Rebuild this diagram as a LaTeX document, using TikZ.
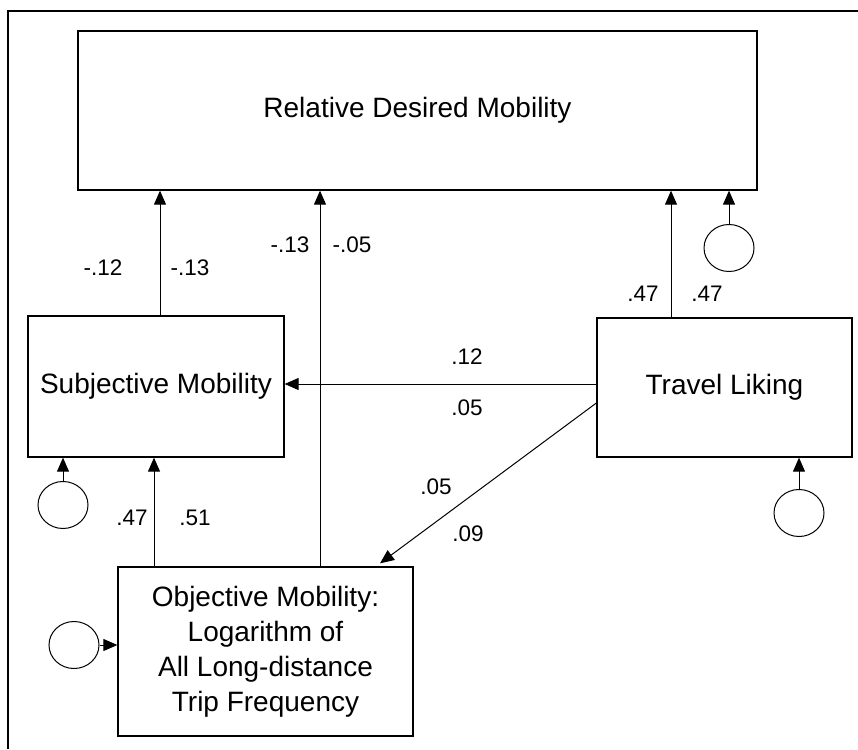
\documentclass[tikz,border=0pt]{standalone}
\usepackage{fontspec}
\setmainfont{Liberation Sans}
\usetikzlibrary{arrows.meta,calc,shapes.geometric}
\tikzset{
  boxnode/.style={draw,line width=1.3pt,align=center,inner sep=0pt,font=\fontsize{28}{35}\selectfont},
  errnode/.style={draw,ellipse,line width=1pt,minimum width=50pt,minimum height=47pt,inner sep=0pt},
  arr/.style={line width=1pt,-{Triangle[length=14pt,width=12pt]}},
  lbl/.style={inner sep=0pt,font=\fontsize{22.5}{26}\selectfont}
}
\begin{document}
\begin{tikzpicture}[x=1pt,y=-1pt]
\useasboundingbox (0,0) rectangle (858,749);
\draw[line width=2.2pt] (8,749) -- (8,11) -- (858,11);
\node[boxnode,minimum width=679pt,minimum height=159pt] (top) at (417.5,110.5) {Relative Desired Mobility};
\node[boxnode,minimum width=256pt,minimum height=141pt] (subj) at (156,386.5) {Subjective Mobility};
\node[boxnode,minimum width=255pt,minimum height=139pt] (trav) at (724.5,387.5) {Travel Liking};
\node[boxnode,minimum width=295pt,minimum height=169pt] (obj) at (265.5,651.5) {Objective Mobility:\\Logarithm of\\All Long-distance\\Trip Frequency};
\node[errnode] (e1) at (729,248) {};
\node[errnode] (e2) at (63,505) {};
\node[errnode] (e3) at (74,645) {};
\node[errnode] (e4) at (799,513) {};
% paths
\coordinate (s1) at ($(subj.north)+(4,0)$);
\draw[arr] (s1) -- (s1 |- top.south);
\coordinate (o1) at ($(obj.north)+(54.5,0)$);
\draw[arr] (o1) -- (o1 |- top.south);
\coordinate (t1) at ($(trav.north)+(-53.5,0)$);
\draw[arr] (t1) -- (t1 |- top.south);
\coordinate (o2) at ($(obj.north)+(-111.5,0)$);
\draw[arr] (o2) -- (o2 |- subj.south);
\coordinate (t2) at ($(trav.west)+(0,-3.5)$);
\draw[arr] (t2) -- (t2 -| subj.east);
\coordinate (t3) at ($(trav.west)+(0,15.5)$);
\coordinate (o3) at ($(obj.north)+(114.5,-3)$);
\draw[arr] (t3) -- (o3);
\draw[arr] (e1.north) -- (e1.north |- top.south);
\draw[arr] (e2.north) -- (e2.north |- subj.south);
\draw[arr] (e3.east) -- (e3.east -| obj.west);
\draw[arr] (e4.north) -- (e4.north |- trav.south);
% labels
\node[lbl] (l1) at (103,268) {-.12};
\node[lbl] (l2) at (190,268) {-.13};
\node[lbl] (l3) at (290,245) {-.13};
\node[lbl] (l4) at (352,245) {-.05};
\node[lbl] (l5) at (643,294) {.47};
\node[lbl] (l6) at (707,294) {.47};
\node[lbl] (l7) at (467,357) {.12};
\node[lbl] (l8) at (467,408) {.05};
\node[lbl] (l9) at (436,487) {.05};
\node[lbl] (l10) at (468,534) {.09};
\node[lbl] (l11) at (132,518) {.47};
\node[lbl] (l12) at (195,518) {.51};
\end{tikzpicture}
\end{document}
